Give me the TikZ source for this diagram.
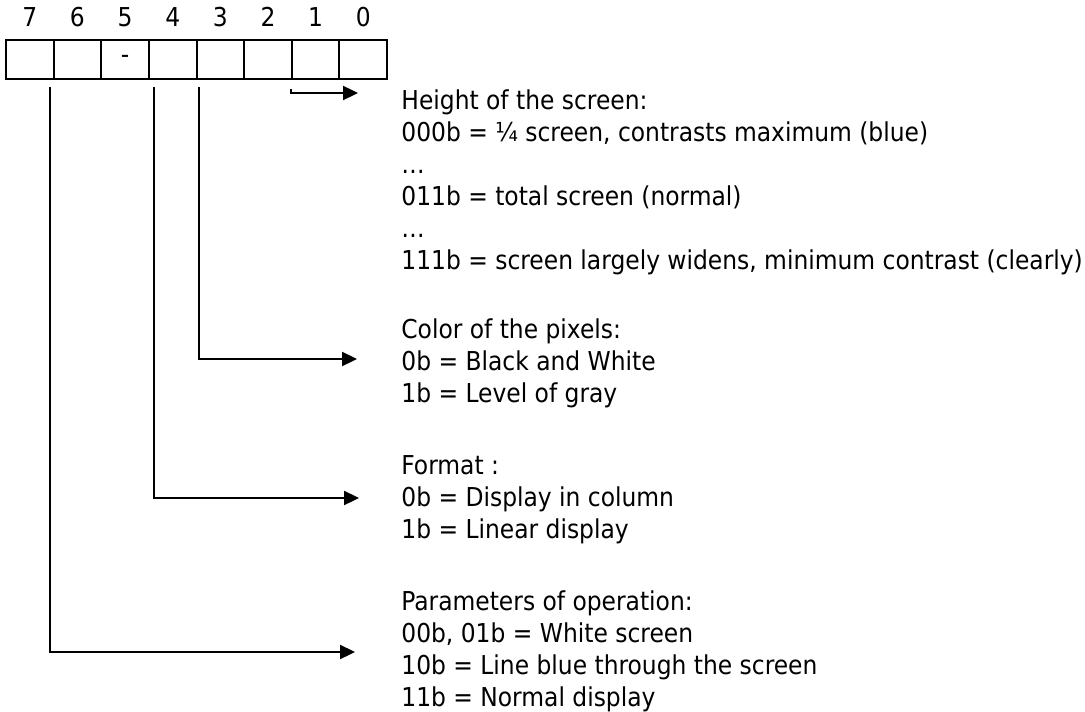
\documentclass[tikz,border=0pt]{standalone}
\usepackage{fontspec}
\setmainfont{DejaVu Sans Condensed}
\usetikzlibrary{arrows.meta}

\begin{document}
\begin{tikzpicture}[x=0.5pt,y=-0.5pt,
    font=\fontsize{13}{16}\selectfont,
    bitcell/.style={draw,line width=1pt,minimum width=23.81pt,minimum height=19.5pt,inner sep=0pt},
    bitnum/.style={anchor=base,inner sep=0pt},
    desc/.style={anchor=north west,align=left,inner sep=0pt},
    bitarrow/.style={line width=1.15pt,-{Triangle[length=7.5pt,width=7pt]}}]

\useasboundingbox (0,0) rectangle (1085,711);

% Register cells and bit numbers
\foreach \i in {0,...,7}{
  \node[bitcell] (b\i) at ({6+(7.5-\i)*47.625},59.5) {};
  \node[bitnum] (n\i) at ({6+(7.5-\i)*47.625},27) {\i};
}
\node (unused) at (b5) {-};

% Descriptions
\node[desc] (hdesc) at (401,89) {Height of the screen:\\
  000b = ¼ screen, contrasts maximum (blue)\\
  …\\
  011b = total screen (normal)\\
  …\\
  111b = screen largely widens, minimum contrast (clearly)};
\node[desc] (cdesc) at (401,318) {Color of the pixels:\\
  0b = Black and White\\
  1b = Level of gray};
\node[desc] (fdesc) at (401,455) {Format :\\
  0b = Display in column\\
  1b = Linear display};
\node[desc] (pdesc) at (401,590) {Parameters of operation:\\
  00b, 01b = White screen\\
  10b = Line blue through the screen\\
  11b = Normal display};

% Arrow ends
\coordinate (t1) at (358,93);
\coordinate (t3) at (357,359);
\coordinate (t4) at (359,498);
\coordinate (t6) at (355,652);

% Arrows
\draw[bitarrow] ([yshift=-4.5pt]b1.south west) |- (t1);
\draw[bitarrow] ([xshift=1.75pt,yshift=-3.5pt]b3.south west) |- (t3);
\draw[bitarrow] ([xshift=3pt,yshift=-3.5pt]b4.south west) |- (t4);
\draw[bitarrow] ([xshift=-1.3pt,yshift=-3.5pt]b6.south west) |- (t6);

\end{tikzpicture}
\end{document}
